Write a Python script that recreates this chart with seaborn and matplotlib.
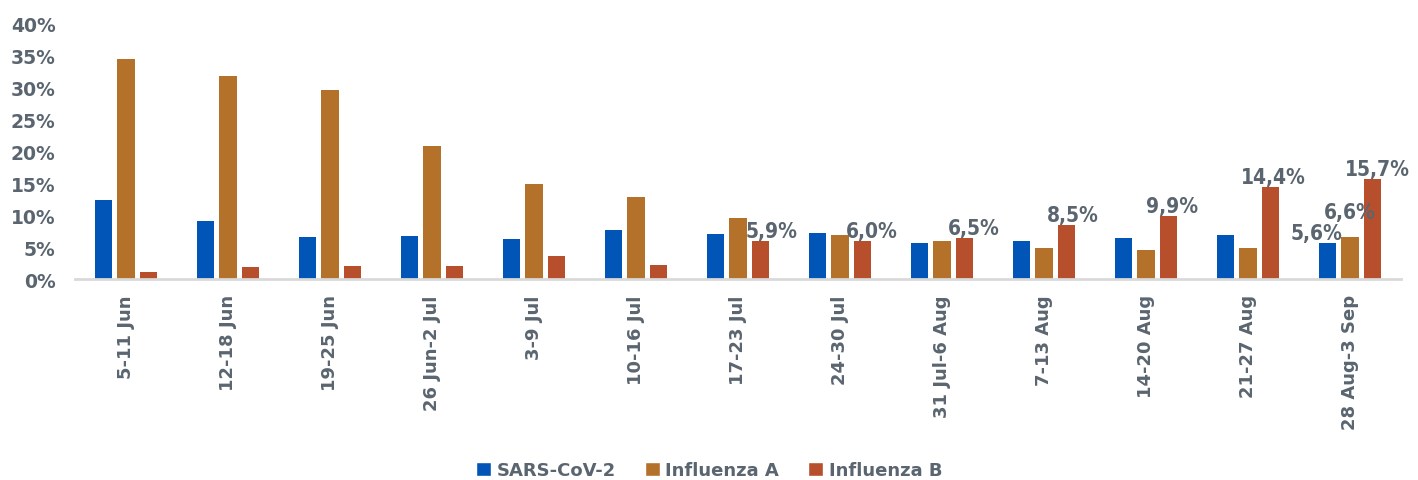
import pandas as pd
import matplotlib.pyplot as plt
import seaborn as sns
from matplotlib.patches import Patch

# Data (weekly positivity, %)
weeks = ["5-11 Jun", "12-18 Jun", "19-25 Jun", "26 Jun-2 Jul", "3-9 Jul", "10-16 Jul",
         "17-23 Jul", "24-30 Jul", "31 Jul-6 Aug", "7-13 Aug", "14-20 Aug", "21-27 Aug",
         "28 Aug-3 Sep"]
sars = [12.4, 9.1, 6.6, 6.7, 6.3, 7.7, 7.0, 7.2, 5.6, 6.0, 6.5, 6.9, 5.6]
flu_a = [34.5, 31.8, 29.6, 20.8, 14.9, 12.9, 9.6, 6.9, 5.9, 4.9, 4.5, 4.9, 6.6]
flu_b = [1.1, 1.9, 2.0, 2.0, 3.6, 2.2, 5.9, 6.0, 6.5, 8.5, 9.9, 14.4, 15.7]
viruses = ["SARS-CoV-2", "Influenza A", "Influenza B"]
yticks = [0, 5, 10, 15, 20, 25, 30, 35, 40]

colors = ["#0055B7", "#B4712A", "#B84F2C"]
text_col = "#5A6570"

df = pd.DataFrame({"week": weeks, viruses[0]: sars, viruses[1]: flu_a, viruses[2]: flu_b})
df = df.melt(id_vars="week", var_name="virus", value_name="value")

sns.set_style("white")
plt.rcParams["font.family"] = ["DejaVu Sans"]
plt.rcParams["font.weight"] = "bold"

fig = plt.figure(figsize=(14.18, 4.81), dpi=100)
ax = fig.add_axes([75 / 1418, 1 - 280 / 481, 1326 / 1418, 255 / 481])

sns.barplot(data=df, x="week", y="value", hue="virus", hue_order=viruses,
            palette=colors, saturation=1, width=0.65, gap=0.23, linewidth=0,
            legend=False, ax=ax)

ax.set_xlim(-0.5, len(weeks) - 0.5)
ax.set_ylim(0, 40)
ax.set_yticks(yticks)
ax.set_yticklabels([f"{t}%" for t in yticks], fontsize=13.5, fontweight="bold", color=text_col)
ax.set_xticks(range(len(weeks)))
ax.set_xticklabels(weeks, rotation=90, fontsize=13, fontweight="bold", color=text_col)
ax.tick_params(axis="both", length=0)
ax.tick_params(axis="x", pad=11)
ax.tick_params(axis="y", pad=14)
ax.set_xlabel("")
ax.set_ylabel("")
for s in ["top", "right", "left"]:
    ax.spines[s].set_visible(False)
ax.spines["bottom"].set_color("#D9D9D9")
ax.spines["bottom"].set_linewidth(2)

# value labels: Influenza B from 17-23 Jul on, plus last week's SARS & Flu A
series = [sars, flu_a, flu_b]
label_off = {(2, 6): (8, 0), (2, 7): (7, 0), (2, 8): (7, 0), (2, 9): (5, 0),
             (2, 10): (3, 0), (2, 11): (2, 0), (2, 12): (4, 0),
             (0, 12): (-8, 0), (1, 12): (0, 11)}
for h, cont in enumerate(ax.containers):
    for i, bar in enumerate(cont):
        if (h, i) not in label_off:
            continue
        dx, dy = label_off[(h, i)]
        v = series[h][i]
        ax.annotate(f"{v:.1f}%".replace(".", ","),
                    (bar.get_x() + bar.get_width() / 2, bar.get_height()),
                    xytext=(dx, dy), textcoords="offset points",
                    ha="center", va="bottom", fontsize=15, fontweight="bold",
                    fontstretch="condensed", color=text_col)

handles = [Patch(facecolor=c, label=v) for c, v in zip(colors, viruses)]
leg = fig.legend(handles=handles, loc="center", bbox_to_anchor=(0.5, 1 - 471 / 481),
                 ncol=3, frameon=False, fontsize=13, handlelength=0.85, handleheight=0.85,
                 handletextpad=0.3, columnspacing=1.6)
for t in leg.get_texts():
    t.set_color(text_col)
    t.set_fontweight("bold")

fig.savefig("out.png", dpi=100)
